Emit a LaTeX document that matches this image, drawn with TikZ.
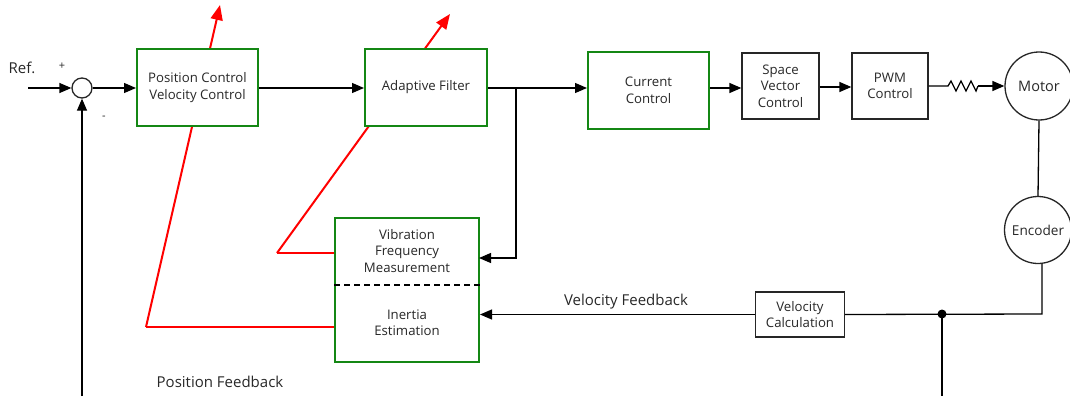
\documentclass[tikz,border=0pt]{standalone}
\usepackage{fontspec}
\setmainfont{Open Sans}
\usetikzlibrary{arrows.meta}
\definecolor{boxgreen}{RGB}{20,135,20}
\definecolor{txt}{RGB}{40,40,40}
\begin{document}
\begin{tikzpicture}[x=1pt,y=-1pt,
  font=\fontsize{13.2}{16.5}\selectfont, text=txt,
  arr/.style={draw=black, line width=1.3pt, -{Triangle[length=12pt,width=10pt]}},
  ln/.style={draw=black, line width=1.3pt},
  gbox/.style={draw=boxgreen, line width=2pt, fill=white, align=center, inner sep=0pt},
  kbox/.style={draw=black!85, line width=1.3pt, fill=white, align=center, inner sep=0pt},
  rcircle/.style={circle, draw=black!85, line width=1.3pt, fill=white, inner sep=0pt},
  redarr/.style={draw=red, line width=2pt, -{Triangle[length=15pt,width=12pt]}},
  lbl/.style={inner sep=0pt}]
\useasboundingbox (0,0) rectangle (1070,396);

% red lines first (boxes drawn over them)
\coordinate (r1) at (277,253);
\coordinate (r1tip) at (450,14);
\coordinate (r2) at (146,327);
\coordinate (r2tip) at (220,5);
\draw[redarr] (r1) -- (r1tip);
\draw[redarr] (r2) -- (r2tip);

% nodes
\node[rcircle, minimum size=20pt] (sum) at (82,88) {};
\node[gbox, minimum width=121pt, minimum height=77pt] (pv) at (197.5,87.5) {Position Control\\Velocity Control};
\node[gbox, minimum width=122pt, minimum height=77pt] (af) at (426,87.5) {Adaptive Filter};
\node[gbox, minimum width=121pt, minimum height=77pt] (cc) at (648.5,90.5) {Current\\Control};
\node[kbox, minimum width=77pt, minimum height=66pt] (svc) at (780.5,86) {Space\\Vector\\Control};
\node[kbox, minimum width=76pt, minimum height=66pt] (pwm) at (890,86) {PWM\\Control};
\node[rcircle, minimum size=68pt, font=\fontsize{14.5}{16}\selectfont] (motor) at (1039,86) {Motor};
\node[rcircle, minimum size=67pt, font=\fontsize{13.6}{16}\selectfont] (enc) at (1038,230) {Encoder};
\node[kbox, minimum width=89pt, minimum height=45pt] (vc) at (800,314.5) {Velocity\\Calculation};
\node[gbox, minimum width=144pt, minimum height=144pt] (est) at (407,290) {};
\node[lbl, align=center] (vfmtxt) at (407,251) {Vibration\\Frequency\\Measurement};
\node[lbl, align=center] (inetxt) at (407,322.5) {Inertia\\Estimation};
\draw[line width=1.6pt, dash pattern=on 6pt off 4pt] (est.west |- 0,285) -- (est.east |- 0,285);

% red horizontal stubs
\draw[draw=red, line width=2pt] (est.west |- r1) -- (r1);
\draw[draw=red, line width=2pt] (est.west |- r2) -- (r2);

% labels
\node[lbl, font=\fontsize{15}{18}\selectfont] (ref) at (22,68) {Ref.};
\node[lbl, font=\fontsize{11}{13}\selectfont] (plus) at (62,66) {+};
\node[lbl, font=\fontsize{11}{13}\selectfont] (minus) at (104,118) {-};
\node[lbl, font=\fontsize{15}{18}\selectfont] (vfb) at (626,302) {Velocity Feedback};
\node[lbl, font=\fontsize{15}{18}\selectfont] (pfb) at (220,382) {Position Feedback};

% connectors
\coordinate (in) at (28,88);
\coordinate (br) at (516,88);
\draw[arr] (in) -- (sum);
\draw[arr] (sum) -- (pv.west |- br);
\draw[arr] (pv.east |- br) -- (af.west |- br);
\draw[arr] (af.east |- br) -- (cc.west |- br);
\coordinate (vfmR) at (479,258);
\draw[arr] (br) |- (vfmR);
\draw[arr] (cc.east |- br) -- (svc.west |- br);
\draw[arr] (svc.east |- 0,87) -- (pwm.west |- 0,87);
% resistor
\coordinate (z0) at (948,86);
\coordinate (z1) at (978,86);
\draw[ln] (pwm.east |- z0) -- (z0) -- ++(3,-5) -- ++(5,10) -- ++(5,-10) -- ++(5,10) -- ++(5,-10) -- ++(5,10) -- (z1);
\draw[arr] (z1) -- (motor.west);
\draw[ln] (motor.south) -- (enc.north);
\coordinate (ec) at (1042,314);
\draw[ln] (enc.south -| ec) -- (ec) -- (vc.east);
\coordinate (jn) at (942,314);
\coordinate (jbot) at (942,396);
\fill (jn) circle (4.5pt);
\draw[ln] (jn) -- (jbot);
\draw[arr] (vc.west) -- (est.east |- vc.west);
\coordinate (pbot) at (82,396);
\draw[arr] (pbot) -- (sum.south);
\end{tikzpicture}
\end{document}
